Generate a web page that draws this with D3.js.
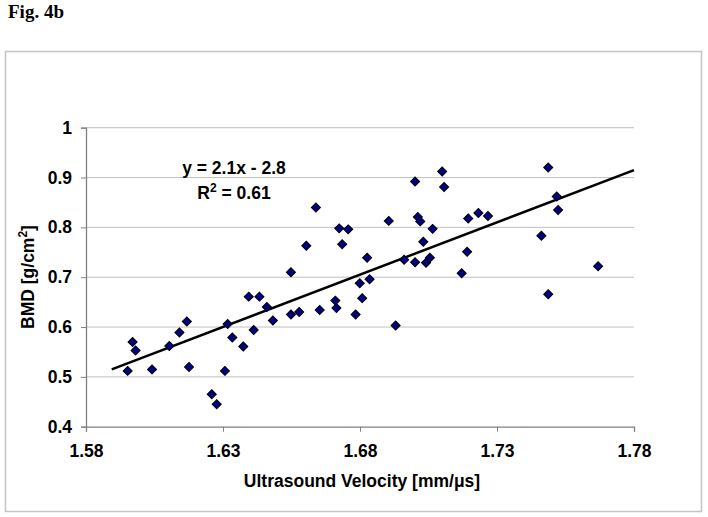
<!DOCTYPE html>
<html>
<head>
<meta charset="utf-8">
<script src="https://cdn.jsdelivr.net/npm/d3@7"></script>
<style>
  html, body { margin: 0; padding: 0; background: #fff; }
  svg { display: block; }
  text { font-family: "Liberation Sans", Arial, sans-serif; font-weight: bold; fill: #000; }
</style>
</head>
<body>
<svg id="chart" width="708" height="517"></svg>
<script>
// ---- data ----
const velocity = [1.6639,1.6724,1.6757,1.6604,1.6735,1.6548,1.6394,1.6433,1.6710,1.6460,
  1.7100,1.7487,1.7001,1.7107,1.7518,1.7523,1.6905,1.7011,1.7020,1.7232,
  1.7195,1.7267,1.7065,1.7031,1.7462,1.6826,1.6961,1.7001,1.7041,1.7055,
  1.7191,1.7171,1.7669,1.6799,1.6835,1.6808,1.7487,1.6714,1.6548,1.6578,
  1.6653,1.6482,1.6168,1.6141,1.6317,1.6412,1.5970,1.5981,1.6104,1.6334,
  1.6374,1.5952,1.6041,1.6176,1.6307,1.6259,1.6277,1.6784,1.6930];
const bmd = [0.840,0.798,0.796,0.763,0.766,0.710,0.661,0.661,0.653,0.640,
  0.912,0.920,0.892,0.881,0.862,0.835,0.813,0.821,0.812,0.829,
  0.818,0.823,0.797,0.771,0.783,0.739,0.735,0.730,0.729,0.739,
  0.751,0.708,0.722,0.688,0.696,0.658,0.666,0.638,0.625,0.630,
  0.634,0.613,0.611,0.589,0.606,0.594,0.570,0.553,0.562,0.579,
  0.561,0.512,0.515,0.520,0.512,0.465,0.445,0.625,0.603];
const trendX = [1.5894, 1.78];
const trendY = [0.515, 0.915];
const xTicks = [1.58, 1.63, 1.68, 1.73, 1.78];
const yTicks = [0.4, 0.5, 0.6, 0.7, 0.8, 0.9, 1];
const figTitle = "Fig. 4b";
const xTitle = "Ultrasound Velocity [mm/\u03bcs]";
const equation = "y = 2.1x - 2.8";
const rSquared = "0.61";

// ---- layout ----
const svg = d3.select("#chart");
const plot = { left: 86, right: 634, top: 127.7, bottom: 426.7 };
const FS = "17.5px";

const x = d3.scaleLinear().domain([1.58, 1.78]).range([plot.left, plot.right]);
const y = d3.scaleLinear().domain([0.4, 1]).range([plot.bottom, plot.top]);

// figure title
svg.append("text").attr("x", 8).attr("y", 18)
  .style("font-family", "'Liberation Serif', 'Times New Roman', serif")
  .style("font-size", "19px").text(figTitle);

// outer chart box
svg.append("rect").attr("x", 5.5).attr("y", 51.5).attr("width", 696).attr("height", 460)
  .attr("fill", "#fff").attr("stroke", "#c4c4c4").attr("stroke-width", 1.5);

// gridlines
svg.append("g").selectAll("line").data(yTicks.filter(d => d > 0.4)).join("line")
  .attr("x1", plot.left).attr("x2", plot.right)
  .attr("y1", d => y(d)).attr("y2", d => y(d))
  .attr("stroke", "#c0c0c0").attr("stroke-width", 1);

// axes
const xAxis = d3.axisBottom(x).tickValues(xTicks).tickSize(5).tickPadding(13).tickFormat(d3.format(".2f"));
const yAxis = d3.axisLeft(y).tickValues(yTicks).tickSize(5).tickPadding(9)
  .tickFormat(d => d === 1 ? "1" : d3.format(".1f")(d));

const gx = svg.append("g").attr("transform", `translate(0,${plot.bottom})`).call(xAxis);
const gy = svg.append("g").attr("transform", `translate(${plot.left},0)`).call(yAxis);
[gx, gy].forEach(g => {
  g.select(".domain").attr("stroke", "#808080").attr("stroke-width", 1.3);
  g.selectAll(".tick line").attr("stroke", "#808080").attr("stroke-width", 1);
  g.selectAll(".tick text").style("font-size", FS).style("font-family", "'Liberation Sans', Arial, sans-serif").style("font-weight", "bold").attr("fill", "#000");
});

// axis titles
svg.append("text").attr("x", 362).attr("y", 487).attr("text-anchor", "middle")
  .style("font-size", FS).text(xTitle);

const yt = svg.append("text").attr("transform", `translate(34,277) rotate(-90)`)
  .attr("text-anchor", "middle").style("font-size", FS);
yt.append("tspan").text("BMD [g/cm");
yt.append("tspan").attr("dy", -7).style("font-size", "12px").text("2");
yt.append("tspan").attr("dy", 7).text("]");

// trend line
svg.append("line")
  .attr("x1", x(trendX[0])).attr("y1", y(trendY[0]))
  .attr("x2", x(trendX[1])).attr("y2", y(trendY[1]))
  .attr("stroke", "#000").attr("stroke-width", 2.5);

// points (diamonds)
const pts = velocity.map((v, i) => ({ v, b: bmd[i] }));
const s = 6.4;
svg.append("g").selectAll("rect").data(pts).join("rect")
  .attr("x", -s / 2).attr("y", -s / 2).attr("width", s).attr("height", s)
  .attr("transform", d => `translate(${x(d.v)},${y(d.b)}) rotate(45)`)
  .attr("fill", "#000080").attr("stroke", "#000").attr("stroke-width", 1);

// equation
const eq = svg.append("g").attr("text-anchor", "middle");
eq.append("text").attr("x", 234).attr("y", 174).style("font-size", FS).text(equation);
const r2 = eq.append("text").attr("x", 234).attr("y", 199).style("font-size", FS);
r2.append("tspan").text("R");
r2.append("tspan").attr("dy", -7).style("font-size", "12px").text("2");
r2.append("tspan").attr("dy", 7).text(" = " + rSquared);
</script>
</body>
</html>
